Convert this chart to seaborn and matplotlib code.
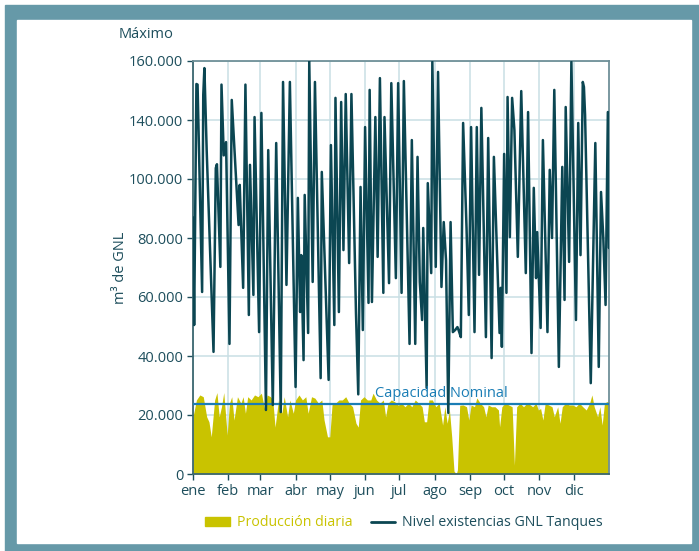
import seaborn as sns
import matplotlib.pyplot as plt
from matplotlib.patches import Rectangle, Patch
from matplotlib.lines import Line2D
import pandas as pd

# tank level (day of year, m3) - turning points
level_day = [0, 1, 3, 4, 8, 9, 10, 12, 18, 20, 21, 24, 25, 27, 29, 32, 34, 37, 40, 41,
             44, 46, 49, 50, 53, 54, 58, 60, 64, 66, 70, 73, 77, 79, 82, 85, 90, 92, 94, 95,
             97, 98, 101, 102, 105, 107, 112, 113, 119, 121, 124, 125, 128, 130, 132, 134, 137, 139, 143, 145,
             147, 149, 151, 154, 155, 157, 160, 162, 164, 167, 168, 172, 174, 178, 180, 183, 185, 190, 192, 195,
             197, 199, 201, 202, 205, 206, 209, 210, 213, 215, 218, 220, 222, 224, 226, 228, 230, 232, 233, 235,
             237, 240, 242, 244, 247, 249, 251, 253, 257, 259, 262, 264, 269, 270, 271, 273, 275, 276, 278, 280,
             282, 285, 288, 292, 294, 297, 299, 301, 302, 305, 307, 311, 313, 315, 317, 321, 324, 326, 327, 330,
             332, 336, 338, 340, 342, 343, 344, 349, 353, 356, 358, 360, 362, 364, 365]
level_val = [87000, 50500, 132200, 132000, 61700, 128500, 137600, 109800, 41400, 103700, 105000, 70200, 132000, 108000, 112500, 44100, 126800, 105800, 84400, 98000,
             63100, 132000, 53900, 104800, 60700, 121000, 48100, 122400, 21700, 109800, 23400, 112200, 21000, 132900, 64100, 132900, 29500, 93600, 54900, 74200,
             38600, 94600, 47800, 140000, 65100, 132900, 32500, 102400, 31900, 111500, 50500, 127500, 54900, 126100, 75900, 128800, 71500, 128800, 54600, 27000,
             97300, 48800, 117600, 58000, 130200, 58300, 121000, 73600, 134200, 61400, 121000, 64700, 132500, 66400, 132500, 61400, 133200, 44100, 113200, 44100,
             107500, 65100, 52200, 83400, 29200, 98600, 68100, 139700, 70200, 136300, 63400, 85400, 72500, 20700, 85400, 48100, 48800, 49800, 48800, 46400,
             119000, 83400, 53900, 117600, 48100, 117600, 67500, 124100, 46400, 113900, 39300, 107500, 47800, 63100, 43100, 108500, 61400, 127800, 80300, 127500,
             116600, 73600, 129800, 68100, 122700, 41000, 97000, 66400, 82000, 49500, 113200, 48100, 103100, 80000, 130200, 36300, 104100, 59000, 124400, 71900,
             139700, 52200, 119000, 74200, 132900, 131200, 121700, 30800, 112200, 36300, 95600, 80000, 57300, 122700, 76600]

# daily production (day of year, m3)
prod_day = [0, 3, 6, 9, 12, 14, 16, 19, 21, 23, 25, 27, 30, 32, 34, 36, 39, 42, 44, 46,
            48, 51, 54, 57, 60, 63, 65, 68, 70, 72, 75, 78, 80, 83, 85, 88, 90, 93, 96, 99,
            101, 104, 107, 110, 113, 115, 118, 120, 122, 125, 128, 131, 134, 137, 140, 143, 145, 147, 150, 153,
            156, 158, 161, 164, 167, 169, 171, 174, 177, 180, 183, 186, 189, 192, 195, 198, 201, 203, 205, 207,
            210, 213, 216, 219, 221, 223, 225, 227, 229, 231, 232, 234, 237, 240, 242, 244, 247, 249, 252, 255,
            257, 259, 262, 265, 268, 269, 271, 274, 277, 280, 282, 284, 287, 290, 293, 296, 298, 301, 303, 305,
            307, 309, 312, 315, 317, 320, 322, 324, 327, 330, 333, 336, 339, 342, 345, 348, 350, 352, 355, 357,
            359, 361, 363, 365]
prod_val = [19400, 25100, 26800, 26200, 19400, 17700, 12600, 25100, 27600, 19400, 22800, 27600, 13200, 24000, 26200, 18300, 26200, 24000, 26200, 20600,
            26200, 25100, 26800, 26200, 27400, 21700, 26800, 26200, 25100, 15900, 25100, 20600, 26200, 19400, 25100, 20600, 25100, 26800, 25100, 26200,
            20600, 26200, 25700, 24000, 25100, 18300, 12600, 12600, 23500, 24000, 25100, 25100, 26200, 24000, 22800, 17200, 15900, 25100, 26200, 25100,
            25100, 27400, 25100, 24000, 25100, 19400, 24000, 25100, 24500, 23300, 24000, 22800, 24000, 22800, 25100, 24000, 22800, 17700, 17700, 25100,
            25100, 22800, 24000, 16600, 22800, 17200, 21700, 12600, 1000, 0, 1400, 23300, 23400, 22800, 18300, 23400, 22800, 25800, 24000, 22800,
            19400, 23400, 22800, 22800, 21700, 16000, 22800, 24000, 23400, 22800, 3000, 22800, 24000, 22800, 24000, 23400, 22800, 24000, 21700, 22200,
            18300, 24000, 23400, 22800, 19400, 22800, 17200, 22800, 24000, 23400, 23400, 22800, 24000, 22800, 21700, 24000, 26800, 22800, 19400, 22800,
            16600, 24000, 24500, 24500]

capacity = 23700
month_days = [0, 31, 59, 90, 120, 151, 181, 212, 243, 273, 304, 334]
month_labels = ['ene', 'feb', 'mar', 'abr', 'may', 'jun', 'jul', 'ago', 'sep', 'oct', 'nov', 'dic']
y_ticks = [0, 20000, 40000, 60000, 80000, 100000, 120000, 140000]
y_labels = ['0', '20.000', '40.000', '60.000', '80.000', '100.000', '140.000', '160.000']

dark = '#0b4652'
txt = '#1d4e5c'
yellow = '#c9c300'
blue = '#1a7db5'
frame = '#6699a8'

sns.set_style('white')
plt.rcParams['font.family'] = ['Open Sans', 'DejaVu Sans']

fig = plt.figure(figsize=(6.99, 5.51), dpi=100)
fig.patches.append(Rectangle((5 / 699, 0), 1, 1 - 5 / 551, transform=fig.transFigure,
                             color=frame, zorder=-10))
fig.patches.append(Rectangle((17 / 699, 8 / 551), (691 - 17) / 699, (543 - 20) / 551,
                             transform=fig.transFigure, color='white', zorder=-9))

ax = fig.add_axes([193 / 699, 1 - 474 / 551, (609 - 193) / 699, (474 - 61) / 551])

level = pd.DataFrame({'dia': level_day, 'nivel': level_val})
ax.fill_between(prod_day, 0, prod_val, color=yellow, lw=0, zorder=2)
ax.axhline(capacity, color=blue, lw=1.6, zorder=3)
sns.lineplot(data=level, x='dia', y='nivel', color=dark, lw=1.8, ax=ax, zorder=4)
ax.text(160, capacity + 1000, 'Capacidad Nominal', color=blue, fontsize=10.5, ha='left', va='bottom', zorder=5)

ax.set_xlim(0, 365)
ax.set_ylim(0, 140000)
ax.set_xticks(month_days)
ax.set_xticklabels(month_labels)
ax.set_yticks(y_ticks)
ax.set_yticklabels(y_labels)
ax.grid(True, color='#c9dfe4', lw=1.1, zorder=0)
ax.set_axisbelow(True)
ax.tick_params(axis='both', colors=txt, labelsize=10.5, length=4, width=1, direction='out',
               left=True, bottom=True, pad=3)
ax.set_xlabel('')
ax.set_ylabel('m³ de GNL', color=txt, fontsize=10.5, labelpad=1)
for side in ['left', 'bottom']:
    ax.spines[side].set_color('#3b6770')
    ax.spines[side].set_linewidth(1.3)
for side in ['top', 'right']:
    ax.spines[side].set_color('#6f9098')
    ax.spines[side].set_linewidth(1.3)

fig.text(119 / 699, 1 - 34 / 551, 'Máximo', color=txt, fontsize=10.5, ha='left', va='center')

handles = [Patch(color=yellow), Line2D([0], [0], color=dark, lw=2)]
leg = fig.legend(handles, ['Producción diaria', 'Nivel existencias GNL Tanques'], loc='center',
                 bbox_to_anchor=(404 / 699, 1 - 523 / 551), ncol=2, frameon=False, fontsize=10.2,
                 handlelength=1.7, handleheight=0.6, columnspacing=1.3, handletextpad=0.5)
leg.get_texts()[0].set_color(yellow)
leg.get_texts()[1].set_color(txt)

fig.savefig('out.png', dpi=100)
